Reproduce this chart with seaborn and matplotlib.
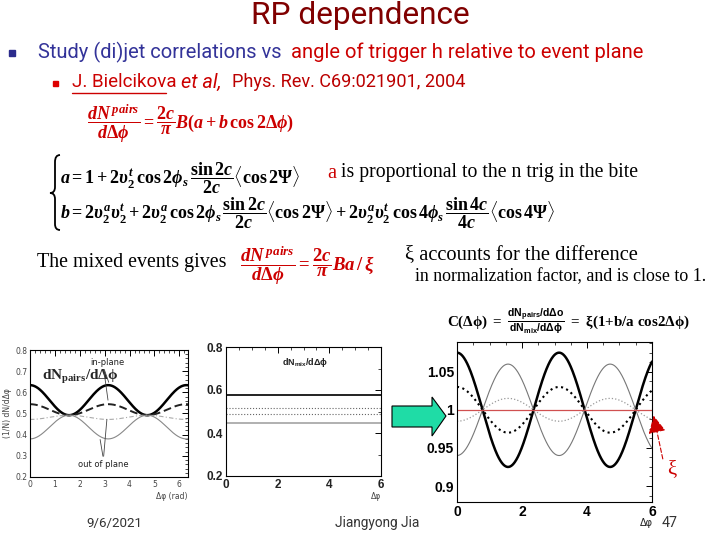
import numpy as np
import matplotlib
matplotlib.use('Agg')
import matplotlib.pyplot as plt
import seaborn as sns
from matplotlib.path import Path
from matplotlib.patches import PathPatch, Polygon, Rectangle
from matplotlib.ticker import MultipleLocator
from matplotlib.lines import Line2D

# ---------------- data ----------------
# left panel: dN_pairs/dΔφ curves -> value at Δφ=0 and at Δφ=π/2
pairs_at_0 = [0.634, 0.544, 0.472, 0.380]
pairs_at_half_pi = [0.492, 0.492, 0.492, 0.492]
# middle panel: flat mixed-event levels dN_mix/dΔφ
mix_levels = [0.575, 0.518, 0.490, 0.445]
# right panel: C(Δφ) curves -> value at Δφ=0 and at Δφ=π/2
corr_at_0 = [1.075, 0.940, 1.030, 0.985]
corr_at_half_pi = [0.925, 1.060, 0.970, 1.015]
xi_level = 1.0

left_xticks = [0, 1, 2, 3, 4, 5, 6]
left_yticks = [0.2, 0.3, 0.4, 0.5, 0.6, 0.7, 0.8]
even_xticks = [0, 2, 4, 6]
mid_yticks = [0.2, 0.4, 0.6, 0.8]
right_yticks = [0.9, 0.95, 1.0, 1.05]
right_yticklabels = ['0.9', '0.95', '1', '1.05']

# ---------------- style ----------------
sns.set_theme(style='white')
plt.rcParams['font.family'] = ['DejaVu Sans']
plt.rcParams['mathtext.fontset'] = 'custom'
plt.rcParams['mathtext.rm'] = 'Liberation Serif:bold'
plt.rcParams['mathtext.it'] = 'Liberation Serif:italic:bold'
plt.rcParams['mathtext.bf'] = 'Liberation Serif:bold'
plt.rcParams['mathtext.sf'] = 'Liberation Sans:bold'

W, H = 720, 540
fig = plt.figure(figsize=(7.2, 5.4), dpi=100)
fig.patch.set_facecolor('white')
renderer = fig.canvas.get_renderer()


def put(x, y, s, w=None, size=12, ha='left', va='center', **kw):
    t = fig.text(x / W, 1 - y / H, s, fontsize=size, ha=ha, va=va, **kw)
    if w is not None:
        bb = t.get_window_extent(renderer)
        t.set_fontsize(size * w / bb.width)
    return t


def add_ax(l, r, t, b):
    return fig.add_axes([l / W, 1 - b / H, (r - l) / W, (b - t) / H])


def style_ax(ax, lw=0.8):
    for sp in ax.spines.values():
        sp.set_color('black')
        sp.set_linewidth(lw)
        sp.set_visible(True)
    ax.tick_params(which='both', direction='in', top=True, right=True,
                   colors='black', pad=2)
    ax.tick_params(which='major', length=4, width=0.7)
    ax.tick_params(which='minor', length=2, width=0.5)
    ax.set_facecolor('white')


# ---------------- slide texts ----------------
sans = 'Roboto'
put(360, 15, 'RP dependence', w=218, size=20, ha='center', color='#800000', family=sans)

fig.patches.append(Rectangle((9 / W, 1 - 56 / H), 6 / W, 6 / H, transform=fig.transFigure,
                             color='#2B2B8C', figure=fig))
put(38, 52, 'Study (di)jet correlations vs', w=246, size=14, color='#333399', family=sans)
put(291, 52, 'angle of trigger h relative to event plane', w=356, size=14,
    color='#CC0000', family=sans)

fig.patches.append(Rectangle((53 / W, 1 - 86 / H), 5 / W, 5 / H, transform=fig.transFigure,
                             color='#DD0000', figure=fig))
put(72, 82, 'J. Bielcikova', w=104, size=12, color='#CC0000', family=sans)
fig.lines.append(Line2D([72 / W, 166 / W], [1 - 93 / H, 1 - 93 / H], transform=fig.transFigure,
                        color='#CC0000', lw=1, figure=fig))
put(181, 82, 'et al,', w=40, size=12, color='#CC0000', family=sans, style='italic')
put(232, 82, 'Phys. Rev. C69:021901, 2004', w=234, size=12, color='#BB0000', family=sans)

red = '#CC0000'
put(87, 124, r'$\dfrac{dN^{\,pairs}}{d\Delta\phi}=\dfrac{2c}{\pi}B(a+b\,\cos 2\Delta\phi)$',
    w=208, size=14, color=red)

# curly brace
bx = [(60, 155), (55, 155), (55, 162), (55, 187), (55, 193), (50, 193),
      (55, 193), (55, 199), (55, 224), (55, 230), (60, 230)]
codes = [Path.MOVETO, Path.CURVE3, Path.CURVE3, Path.LINETO, Path.CURVE3, Path.CURVE3,
         Path.CURVE3, Path.CURVE3, Path.LINETO, Path.CURVE3, Path.CURVE3]
verts = [(x / W, 1 - y / H) for x, y in bx]
fig.patches.append(PathPatch(Path(verts, codes), transform=fig.transFigure, fill=False,
                             lw=1.3, color='black', figure=fig))

put(60, 178, r'$a=1+2\upsilon_2^{t}\,\cos 2\phi_s\,\dfrac{\sin 2c}{2c}\langle\cos 2\Psi\rangle$',
    w=240, size=14, color='black')
put(60, 213, r'$b=2\upsilon_2^{a}\upsilon_2^{t}+2\upsilon_2^{a}\,\cos 2\phi_s\,\dfrac{\sin 2c}{2c}'
    r'\langle\cos 2\Psi\rangle+2\upsilon_2^{a}\upsilon_2^{t}\,\cos 4\phi_s\,\dfrac{\sin 4c}{4c}'
    r'\langle\cos 4\Psi\rangle$', w=495, size=14, color='black')

serif = 'Liberation Serif'
put(327, 173, 'a', w=9, size=14, color=red, family=serif)
put(341, 173, 'is proportional to the n trig in the bite', w=297, size=14,
    color='black', family=serif)

put(37, 263, 'The mixed events gives', w=190, size=14, color='black', family=serif)
put(240, 266, r'$\dfrac{dN^{\,pairs}}{d\Delta\phi}=\dfrac{2c}{\pi}Ba\,/\,\xi$', w=135, size=14,
    color=red)
put(405, 255, 'ξ accounts for the difference', w=235, size=14, color='black', family=serif)
put(415, 277, 'in normalization factor, and is close to 1.', w=293, size=14,
    color='black', family=serif)

put(447, 321, r'$\mathrm{C(\Delta\phi)\ =\ }\frac{\mathsf{dN_{pairs}/d\Delta o}}'
    r'{\mathsf{dN_{mix}/d\Delta\phi}}\mathrm{\ =\ \xi(1{+}b/a\ cos2\Delta\phi)}$',
    w=243, size=12, color='black')

put(86, 523, '9/6/2021', w=56, size=10, color='#333333', family=sans)
put(335, 523, 'Jiangyong Jia', w=85, size=10, color='#333333', family=sans)
put(662, 523, '47', w=16, size=10, color='#333333', family=sans)

# ---------------- left panel ----------------
ax1 = add_ax(30, 188, 350, 477)
style_ax(ax1)
phi1 = np.linspace(0, 6.35, 500)
left_styles = [dict(color='black', lw=1.8, ls='-'),
               dict(color='#222222', lw=1.4, ls=(0, (4, 2))),
               dict(color='#AAAAAA', lw=0.8, ls=(0, (4, 2, 1, 2))),
               dict(color='#888888', lw=0.8, ls='-')]
for v0, vh, st in zip(pairs_at_0, pairs_at_half_pi, left_styles):
    mid, amp = (v0 + vh) / 2, (v0 - vh) / 2
    sns.lineplot(x=phi1, y=mid + amp * np.cos(2 * phi1), ax=ax1, color=st['color'],
                 linewidth=st['lw'], linestyle=st['ls'], sort=False)
ax1.set_xlim(0, 6.35)
ax1.set_ylim(0.2, 0.8)
ax1.set_xticks(left_xticks, labels=[str(v) for v in left_xticks])
ax1.set_yticks(left_yticks, labels=[f'{v:.1f}' for v in left_yticks])
ax1.xaxis.set_minor_locator(MultipleLocator(0.2))
ax1.yaxis.set_minor_locator(MultipleLocator(0.02))
ax1.tick_params(labelsize=5.5, labelcolor='#444444')
ax1.set_xlabel('Δφ (rad)', fontsize=5.5, color='#444444', loc='right', labelpad=2)
ax1.set_ylabel('(1/N) dN/dΔφ', fontsize=5.5, color='#444444', labelpad=2)
ax1.text(0.5, 0.672, r'$\mathrm{dN_{pairs}/d\Delta\phi}$', fontsize=11, va='center')
ax1.text(3.09, 0.739, 'in-plane', fontsize=6, ha='center', va='center', color='#222222')
ax1.text(2.95, 0.257, 'out of plane', fontsize=6, ha='center', va='center', color='#222222')
for xy in [(3.2, 0.635), (3.15, 0.55)]:
    ax1.annotate('', xy=xy, xytext=(2.95, 0.72),
                 arrowprops=dict(arrowstyle='-', color='#444444', lw=0.6))
for xy in [(2.8, 0.39), (3.1, 0.485)]:
    ax1.annotate('', xy=xy, xytext=(2.95, 0.285),
                 arrowprops=dict(arrowstyle='-', color='#444444', lw=0.6))

# ---------------- middle panel ----------------
ax2 = add_ax(226, 381, 347, 476)
style_ax(ax2)
phi2 = np.linspace(0, 6, 50)
mid_styles = [dict(color='#111111', lw=1.3, ls='-'),
              dict(color='#666666', lw=0.8, ls=':'),
              dict(color='#666666', lw=0.8, ls=':'),
              dict(color='#AAAAAA', lw=1.3, ls='-')]
for lev, st in zip(mix_levels, mid_styles):
    sns.lineplot(x=phi2, y=np.full_like(phi2, lev), ax=ax2, color=st['color'],
                 linewidth=st['lw'], linestyle=st['ls'], sort=False)
ax2.set_xlim(0, 6)
ax2.set_ylim(0.2, 0.8)
ax2.set_xticks(even_xticks, labels=[str(v) for v in even_xticks])
ax2.set_yticks(mid_yticks, labels=[f'{v:.1f}' for v in mid_yticks])
ax2.xaxis.set_minor_locator(MultipleLocator(0.5))
ax2.yaxis.set_minor_locator(MultipleLocator(0.1))
ax2.tick_params(labelsize=8.5, labelcolor='#222222')
for lab in ax2.get_xticklabels() + ax2.get_yticklabels():
    lab.set_fontweight('bold')
    lab.set_family('Liberation Sans')
ax2.set_xlabel('Δφ', fontsize=5.5, color='#444444', loc='right', labelpad=1)
ax2.text(3.06, 0.726, r'$\mathsf{dN_{mix}/d\Delta\phi}$', fontsize=6.5, ha='center',
         va='center', color='#222222')

# ---------------- green arrow ----------------
arrow_px = [(392, 406), (432, 406), (432, 397), (446, 416), (432, 436), (432, 427), (392, 427)]
fig.patches.append(Polygon([(x / W, 1 - y / H) for x, y in arrow_px], closed=True,
                           transform=fig.transFigure, facecolor='#1FDCA6',
                           edgecolor='black', lw=0.8, figure=fig))

# ---------------- right panel ----------------
ax3 = add_ax(457, 652, 342, 502)
style_ax(ax3)
phi3 = np.linspace(0, 6, 500)
right_styles = [dict(color='black', lw=1.8, ls='-'),
                dict(color='#777777', lw=0.8, ls='-'),
                dict(color='black', lw=1.5, ls=':'),
                dict(color='#999999', lw=0.9, ls=':')]
for v0, vh, st in zip(corr_at_0, corr_at_half_pi, right_styles):
    mid, amp = (v0 + vh) / 2, (v0 - vh) / 2
    sns.lineplot(x=phi3, y=mid + amp * np.cos(2 * phi3), ax=ax3, color=st['color'],
                 linewidth=st['lw'], linestyle=st['ls'], sort=False)
ax3.axhline(xi_level, color='#D05050', lw=0.9)
ax3.set_xlim(0, 6)
ax3.set_ylim(0.879, 1.089)
ax3.set_xticks(even_xticks, labels=[str(v) for v in even_xticks])
ax3.set_yticks(right_yticks, labels=right_yticklabels)
ax3.xaxis.set_minor_locator(MultipleLocator(0.5))
ax3.yaxis.set_minor_locator(MultipleLocator(0.0125))
ax3.tick_params(labelsize=10, labelcolor='black')
for lab in ax3.get_xticklabels() + ax3.get_yticklabels():
    lab.set_fontweight('bold')
    lab.set_family('Liberation Sans')
ax3.annotate('', xy=(6.03, 0.996), xytext=(6.35, 0.932), annotation_clip=False,
             arrowprops=dict(arrowstyle='-|>,head_length=0.9,head_width=0.45',
                             color='#CC0000', lw=0.8,
                             linestyle=(0, (4, 2)), mutation_scale=12))
ax3.text(6.6, 0.922, 'ξ', fontsize=15, color='#CC0000', family='Liberation Serif',
         ha='center', va='center', clip_on=False)
put(646, 523, 'Δφ', size=7, ha='center', color='#222222')

fig.savefig('out.png', dpi=100, facecolor='white')
